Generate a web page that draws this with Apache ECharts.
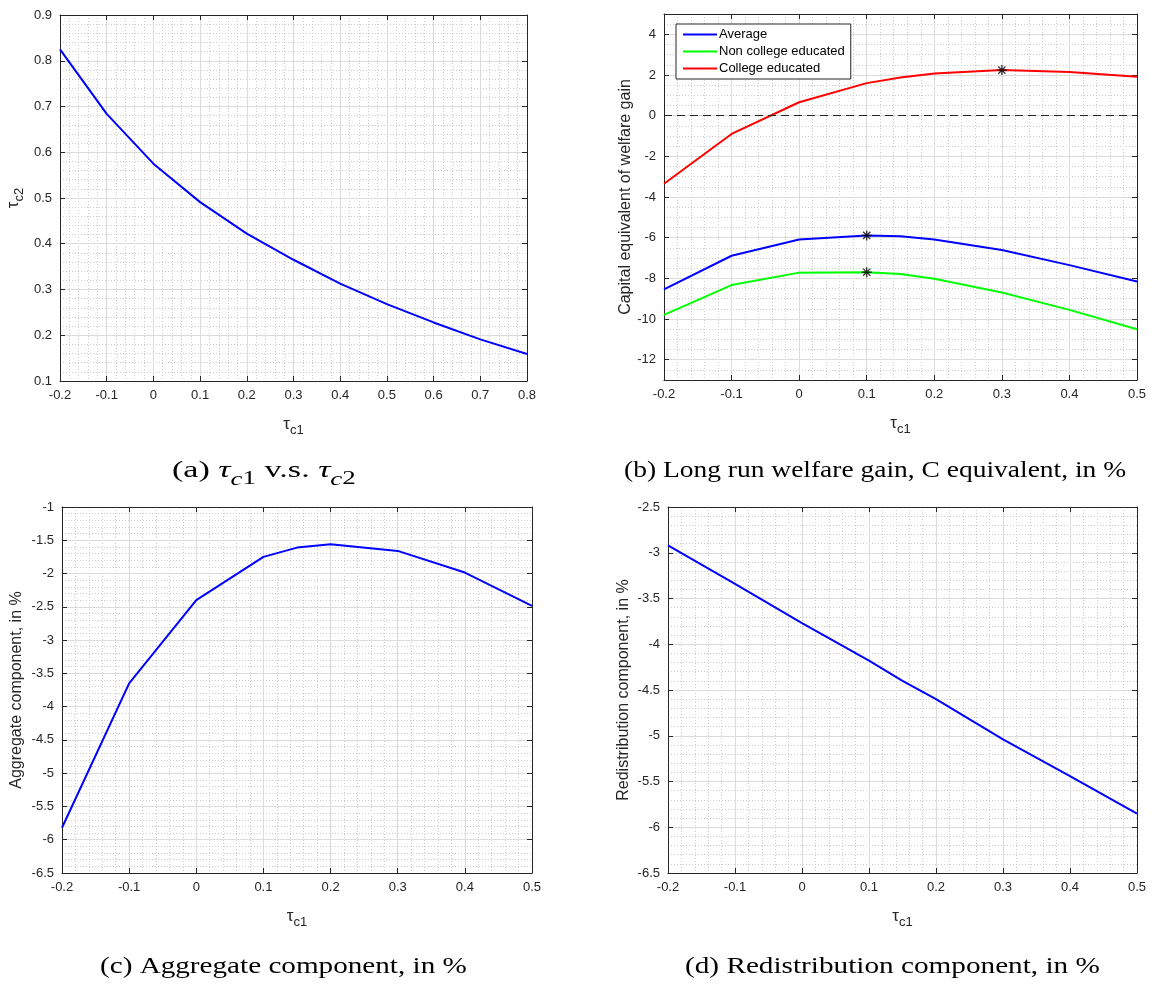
<!DOCTYPE html>
<html>
<head>
<meta charset="utf-8">
<script src="https://cdn.jsdelivr.net/npm/echarts@6.0.0/dist/echarts.min.js"></script>
<style>
  html, body { margin: 0; padding: 0; background: #ffffff; }
  #chart { width: 1156px; height: 984px; }
</style>
</head>
<body>
<div id="chart"></div>
<script>
// ---- data ----------------------------------------------------------------
// (a) tau_c2 that balances the budget for each tau_c1
const tauC1Wide = [-0.2, -0.1, 0, 0.1, 0.2, 0.3, 0.4, 0.5, 0.6, 0.7, 0.8];
const tauC2 = [0.825, 0.684, 0.575, 0.491, 0.422, 0.365, 0.313, 0.268, 0.228, 0.191, 0.159];

// tau_c1 grid used by panels (b)-(d)
const tauC1 = [-0.2, -0.1, 0, 0.1, 0.15, 0.2, 0.3, 0.4, 0.5];

// (b) long run welfare gain, consumption equivalent, in %
const welfareAverage    = [-8.54, -6.89, -6.09, -5.89, -5.93, -6.09, -6.61, -7.35, -8.16];
const welfareNonCollege = [-9.80, -8.33, -7.72, -7.70, -7.79, -8.02, -8.70, -9.55, -10.50];
const welfareCollege    = [-3.35, -0.90, 0.66, 1.60, 1.88, 2.07, 2.24, 2.15, 1.91];

// (c) aggregate component, in %
const aggregateComponent = [-5.82, -3.65, -2.40, -1.75, -1.61, -1.56, -1.66, -1.985, -2.485];

// (d) redistribution component, in %
const redistributionComponent = [-2.92, -3.34, -3.77, -4.18, -4.40, -4.60, -5.04, -5.44, -5.85];

// tick labels
const xTicksWide = [-0.2, -0.1, 0, 0.1, 0.2, 0.3, 0.4, 0.5, 0.6, 0.7, 0.8];
const xTicks = [-0.2, -0.1, 0, 0.1, 0.2, 0.3, 0.4, 0.5];
const yTicksTau = [0.1, 0.2, 0.3, 0.4, 0.5, 0.6, 0.7, 0.8, 0.9];
const yTicksWelfare = [-12, -10, -8, -6, -4, -2, 0, 2, 4];
const yTicksAggregate = [-6.5, -6, -5.5, -5, -4.5, -4, -3.5, -3, -2.5, -2, -1.5, -1];
const yTicksRedistribution = [-6.5, -6, -5.5, -5, -4.5, -4, -3.5, -3, -2.5];

const groupNames = ['Average', 'Non college educated', 'College educated'];

// ---- styling helpers --------------------------------------------------------
const AXIS_COLOR = '#262626';
const SANS = '"Liberation Sans", Arial, Helvetica, sans-serif';
const SERIF = '"Liberation Serif", "Times New Roman", serif';

// tau with a lowered subscript: every token sits on the line bottom, the
// main glyph is lifted by its bottom padding
const tauRich = {
  t: { fontFamily: SANS, fontSize: 17, lineHeight: 22, verticalAlign: 'bottom', padding: [0, 0, 4, 0], color: AXIS_COLOR },
  s: { fontFamily: SANS, fontSize: 13, lineHeight: 22, verticalAlign: 'bottom', color: AXIS_COLOR }
};

const xAxes = [];
const yAxes = [];

// Each axis gets three layers: a dotted minor grid, the labelled main axis with
// the solid major grid, and the mirrored axis on the opposite side of the box.
function addAxes(list, dim, grid, min, max, minorStep, ticks, name, nameGap, rich) {
  const near = dim === 'x' ? 'bottom' : 'left';
  const far = dim === 'x' ? 'top' : 'right';
  const base = { type: 'value', gridIndex: grid, min: min, max: max, interval: minorStep };
  list.push(Object.assign({}, base, {
    position: near, z: -1,
    axisLine: { show: false }, axisTick: { show: false }, axisLabel: { show: false },
    splitLine: { show: true, lineStyle: { color: '#cdcdcd', width: 1, type: [1, 2] } }
  }));
  const mainIndex = list.length;
  list.push(Object.assign({}, base, {
    position: near,
    axisLine: { show: true, onZero: false, lineStyle: { color: AXIS_COLOR, width: 1 } },
    axisTick: { show: true, inside: true, length: 5, customValues: ticks, lineStyle: { color: AXIS_COLOR, width: 1 } },
    axisLabel: {
      customValues: ticks, color: AXIS_COLOR, fontFamily: SANS, fontSize: 13, margin: 8,
      formatter: v => String(Math.round(v * 100) / 100)
    },
    splitLine: { show: true, lineStyle: { color: '#dcdcdc', width: 1 } },
    name: name, nameLocation: 'middle', nameGap: nameGap,
    nameTextStyle: rich
      ? { rich: tauRich }
      : { fontFamily: SANS, fontSize: 16, color: AXIS_COLOR }
  }));
  list.push(Object.assign({}, base, {
    position: far,
    axisLine: { show: true, onZero: false, lineStyle: { color: AXIS_COLOR, width: 1 } },
    axisTick: { show: true, inside: true, length: 5, customValues: ticks, lineStyle: { color: AXIS_COLOR, width: 1 } },
    axisLabel: { show: false },
    splitLine: { show: false }
  }));
  return mainIndex;
}

function pairs(xs, ys) { return xs.map((x, i) => [x, ys[i]]); }
function peak(xs, ys) {
  let k = 0;
  ys.forEach((v, i) => { if (v > ys[k]) k = i; });
  return [xs[k], ys[k]];
}

const TAU_C1 = '{t|τ}{s|c1}';

// panel (a)
const ax = addAxes(xAxes, 'x', 0, -0.2, 0.8, 0.02, xTicksWide, TAU_C1, 34, true);
const ay = addAxes(yAxes, 'y', 0, 0.1, 0.9, 0.02, yTicksTau, '{t|τ}{s|c2}', 34, true);
// panel (b)
const bx = addAxes(xAxes, 'x', 1, -0.2, 0.5, 0.02, xTicks, TAU_C1, 34, true);
const by = addAxes(yAxes, 'y', 1, -13, 5, 0.5, yTicksWelfare, 'Capital equivalent of welfare gain', 28, false);
// panel (c)
const cx = addAxes(xAxes, 'x', 2, -0.2, 0.5, 0.02, xTicks, TAU_C1, 34, true);
const cy = addAxes(yAxes, 'y', 2, -6.5, -1, 0.1, yTicksAggregate, 'Aggregate component, in %', 37, false);
// panel (d)
const dx = addAxes(xAxes, 'x', 3, -0.2, 0.5, 0.02, xTicks, TAU_C1, 34, true);
const dy = addAxes(yAxes, 'y', 3, -6.5, -2.5, 0.1, yTicksRedistribution, 'Redistribution component, in %', 36, false);

function lineSeries(name, xi, yi, xs, ys, color, extra) {
  return Object.assign({
    name: name, type: 'line', xAxisIndex: xi, yAxisIndex: yi,
    data: pairs(xs, ys), symbol: 'none', showSymbol: false, clip: true,
    lineStyle: { color: color, width: 2 }, itemStyle: { color: color }, z: 3
  }, extra || {});
}

const ASTERISK = 'path://M0,-5L0,5M-5,0L5,0M-3.6,-3.6L3.6,3.6M-3.6,3.6L3.6,-3.6';

// caption text with lowered subscripts
const capRich = {
  n:  { fontFamily: SERIF, fontSize: 24, lineHeight: 30, verticalAlign: 'bottom', padding: [0, 0, 6, 0], fill: '#000' },
  i:  { fontFamily: SERIF, fontSize: 24, lineHeight: 30, verticalAlign: 'bottom', padding: [0, 0, 6, 0], fontStyle: 'italic', fill: '#000' },
  si: { fontFamily: SERIF, fontSize: 19, lineHeight: 30, verticalAlign: 'bottom', fontStyle: 'italic', fill: '#000' },
  s:  { fontFamily: SERIF, fontSize: 19, lineHeight: 30, verticalAlign: 'bottom', fill: '#000' }
};
function caption(text, x, y, scaleX) {
  return {
    type: 'text', x: x, y: y, scaleX: scaleX, silent: true,
    style: { text: text, rich: capRich, align: 'left', verticalAlign: 'middle',
             fontFamily: SERIF, fontSize: 24, fill: '#000' }
  };
}

const option = {
  backgroundColor: '#ffffff',
  animation: false,
  grid: [
    { left: 60,  right: 629, top: 15,  bottom: 603 },
    { left: 664, right: 19,  top: 14,  bottom: 604 },
    { left: 62,  right: 624, top: 507, bottom: 111 },
    { left: 668, right: 19,  top: 507, bottom: 111 }
  ],
  xAxis: xAxes,
  yAxis: yAxes,
  legend: {
    data: groupNames,
    orient: 'vertical',
    left: 676, top: 24,
    itemWidth: 34, itemHeight: 14, itemGap: 4,
    padding: [4, 6, 4, 6],
    backgroundColor: '#ffffff',
    borderColor: AXIS_COLOR, borderWidth: 1, borderRadius: 0,
    itemStyle: { opacity: 0 },
    textStyle: { fontFamily: SANS, fontSize: 13, color: '#000', padding: [0, 0, 0, -3] },
    selectedMode: false
  },
  graphic: [
    caption('{n|(a) }{i|τ}{si|c}{s|1}{n| v.s. }{i|τ}{si|c}{s|2}', 172, 474, 1.42),
    caption('{n|(b) Long run welfare gain, C equivalent, in %}', 624, 474, 1.145),
    caption('{n|(c) Aggregate component, in %}', 100, 970, 1.215),
    caption('{n|(d) Redistribution component, in %}', 685, 970, 1.218)
  ],
  series: [
    lineSeries('tau_c2', ax, ay, tauC1Wide, tauC2, '#0000ff'),

    lineSeries(groupNames[0], bx, by, tauC1, welfareAverage, '#0000ff'),
    lineSeries(groupNames[1], bx, by, tauC1, welfareNonCollege, '#00ff00'),
    lineSeries(groupNames[2], bx, by, tauC1, welfareCollege, '#ff0000', {
      markLine: {
        silent: true, symbol: 'none', label: { show: false },
        lineStyle: { color: AXIS_COLOR, width: 1, type: [8, 5] },
        data: [{ yAxis: 0 }]
      }
    }),
    {
      name: 'Optimum', type: 'scatter', xAxisIndex: bx, yAxisIndex: by, z: 5,
      symbol: ASTERISK, symbolSize: 10,
      itemStyle: { color: 'none', borderColor: '#000', borderWidth: 1.3 },
      data: [
        peak(tauC1, welfareCollege),
        peak(tauC1, welfareAverage),
        peak(tauC1, welfareNonCollege)
      ]
    },

    lineSeries('aggregate', cx, cy, tauC1, aggregateComponent, '#0000ff'),
    lineSeries('redistribution', dx, dy, tauC1, redistributionComponent, '#0000ff')
  ]
};

const chart = echarts.init(document.getElementById('chart'), null, { renderer: 'canvas' });
chart.setOption(option);
</script>
</body>
</html>
